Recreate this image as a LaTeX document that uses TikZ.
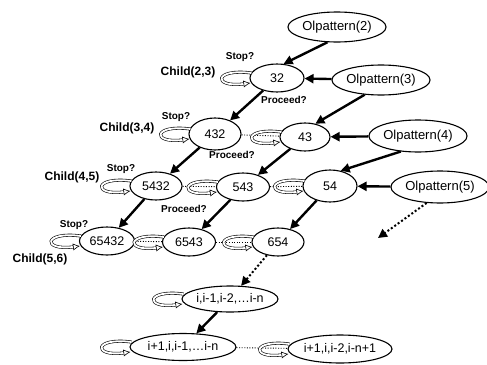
\documentclass[tikz,border=0pt]{standalone}
\usepackage{fontspec}
\setmainfont{Liberation Sans}
\usetikzlibrary{arrows.meta,shapes.geometric}
\begin{document}
\begin{tikzpicture}[x=1pt,y=-1pt,
  ell/.style={ellipse,draw,line width=1.1pt,inner sep=0pt,font=\fontsize{12.5}{12.5}\selectfont},
  olp/.style={ell,font=\fontsize{13}{13}\selectfont},
  thick arrow/.style={line width=2.4pt,-{Triangle[length=9pt,width=9pt]}},
  dot arrow/.style={line width=2pt,dash pattern=on 2pt off 2.2pt,-{Triangle[length=9pt,width=9pt]}},
  sib/.style={line width=0.9pt,dash pattern=on 1pt off 1.6pt},
  lp/.style={line width=0.6pt,double=white,double distance=1.8pt,-{Latex[open,length=7pt,width=7pt]}},
  lab/.style={font=\bfseries\fontsize{12}{12}\selectfont,inner sep=0pt},
  sm/.style={font=\bfseries\fontsize{10}{10}\selectfont,inner sep=0pt}]
\useasboundingbox (0,0) rectangle (487,364);
% pattern nodes
\node[olp,minimum width=96pt,minimum height=30pt] (olp2) at (337,27) {Olpattern(2)};
\node[olp,minimum width=95pt,minimum height=30pt] (olp3) at (381,80) {Olpattern(3)};
\node[olp,minimum width=97pt,minimum height=32pt] (olp4) at (418,136) {Olpattern(4)};
\node[olp,minimum width=94pt,minimum height=32pt] (olp5) at (440,187) {Olpattern(5)};
% sequence nodes
\node[ell,minimum width=54pt,minimum height=28pt] (n32) at (277,78) {32};
\node[ell,minimum width=52pt,minimum height=32pt] (n432) at (215,134) {432};
\node[ell,minimum width=50pt,minimum height=28pt] (n43) at (305,137) {43};
\node[ell,minimum width=52pt,minimum height=28pt] (n5432) at (156,186) {5432};
\node[ell,minimum width=53pt,minimum height=28pt] (n543) at (243,187) {543};
\node[ell,minimum width=54pt,minimum height=32pt] (n54) at (330,186) {54};
\node[ell,minimum width=55pt,minimum height=28pt] (n65432) at (107,241) {65432};
\node[ell,minimum width=53pt,minimum height=28pt] (n6543) at (189,242) {6543};
\node[ell,minimum width=52pt,minimum height=28pt] (n654) at (278,242) {654};
\node[ell,minimum width=96pt,minimum height=26pt] (ni) at (230,299) {i,i-1,i-2,\dots i-n};
\node[ell,minimum width=106pt,minimum height=27pt] (ni1) at (183,347) {i+1,i,i-1,\dots i-n};
\node[ell,minimum width=104pt,minimum height=28pt] (ni2) at (340,349) {i+1,i,i-2,i-n+1};
\coordinate (free) at (378,238);
% labels
\node[sm] (s1) at (240,57) {Stop?};
\node[lab] (c1) at (188,72) {Child(2,3)};
\node[sm] (p1) at (284,100) {Proceed?};
\node[sm] (s2) at (176,117) {Stop?};
\node[lab] (c2) at (127,128) {Child(3,4)};
\node[sm] (p2) at (232,155) {Proceed?};
\node[sm] (s3) at (121,169) {Stop?};
\node[lab] (c3) at (72,177) {Child(4,5)};
\node[sm] (p3) at (184,209) {Proceed?};
\node[sm] (s4) at (74,225) {Stop?};
\node[lab] (c4) at (40,259) {Child(5,6)};
% sibling dotted links
\draw[sib] (n432) -- (n43);
\draw[sib] (n5432) -- (n543);
\draw[sib] (n543) -- (n54);
\draw[sib] (n65432) -- (n6543);
\draw[sib] (n6543) -- (n654);
\draw[sib] (ni1) -- (ni2);
% self loops
\foreach \n in {n32,n432,n43,n5432,n543,n54,n65432,n6543,n654,ni,ni1,ni2}{
  \draw[lp] ([yshift=5pt,xshift=2pt]\n.west) .. controls +(-38,-5) and +(-38,5) .. ([yshift=-5pt,xshift=1pt]\n.west);
}
% thick arrows
\draw[thick arrow] (olp2.238) -- (n32.65);
\draw[thick arrow] (olp3) -- (n32);
\draw[thick arrow] (olp3.222) -- (n43.52);
\draw[thick arrow] (olp4) -- (n43);
\draw[thick arrow] (olp4.222) -- (n54.55);
\draw[thick arrow] (olp5) -- (n54);
\draw[thick arrow] (n32) -- (n432);
\draw[thick arrow] (n432) -- (n5432);
\draw[thick arrow] (n43) -- (n543);
\draw[thick arrow] (n5432) -- (n65432);
\draw[thick arrow] (n543) -- (n6543);
\draw[thick arrow] (n54) -- (n654);
\draw[thick arrow] (ni) -- (ni1);
\draw[dot arrow] (n654) -- (ni);
\draw[dot arrow] (olp5.230) -- (free);
\end{tikzpicture}
\end{document}
